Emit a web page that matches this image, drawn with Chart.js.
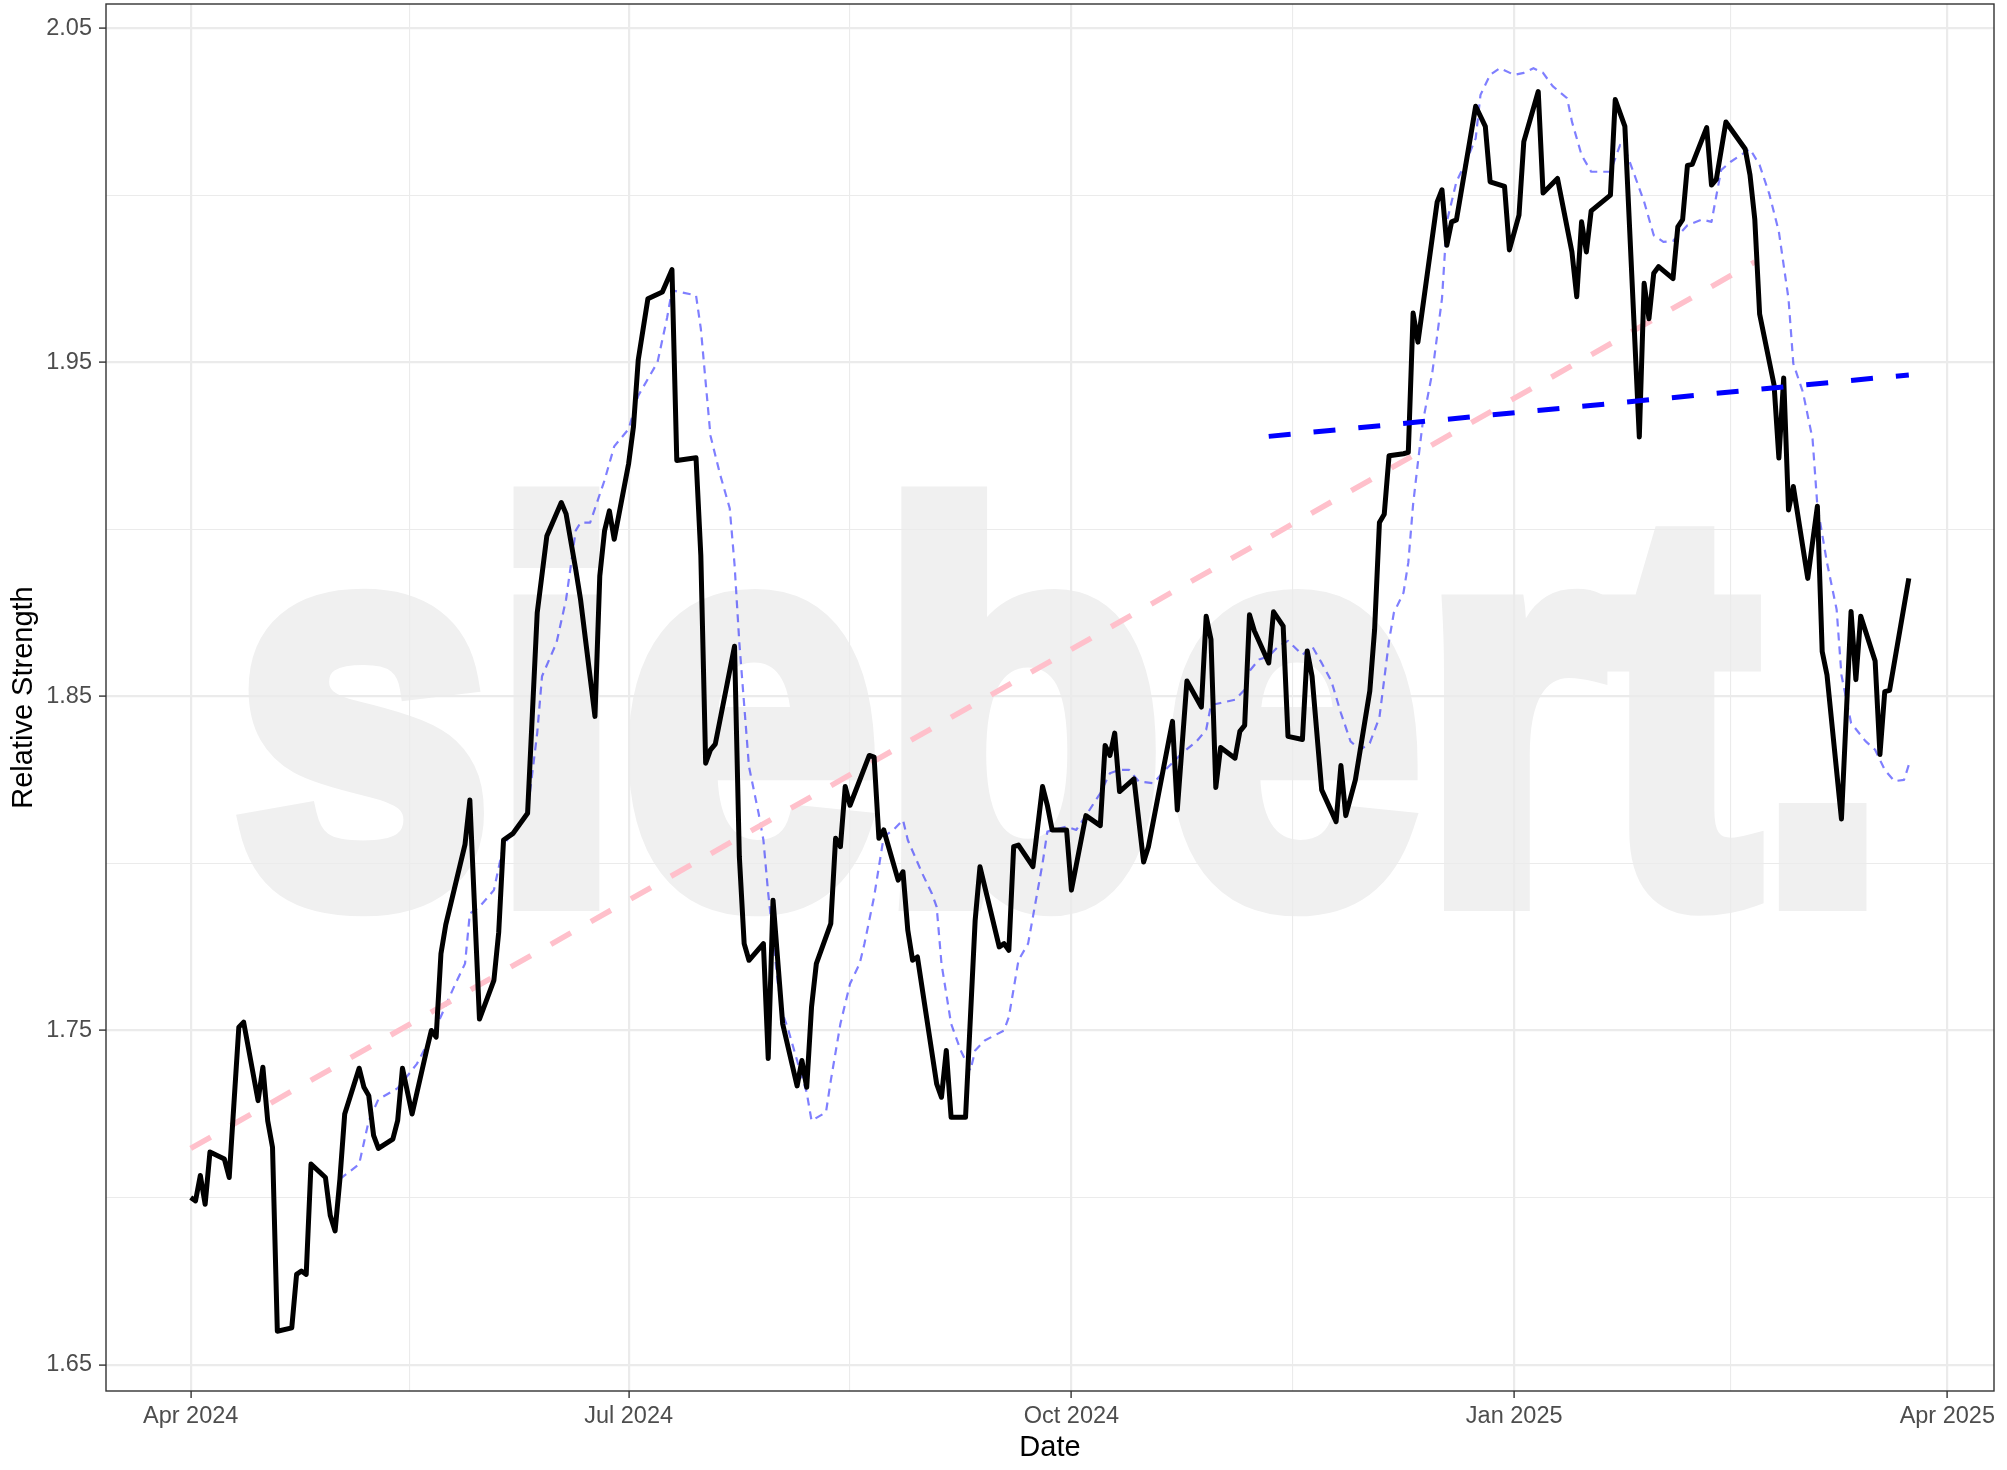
<!DOCTYPE html>
<html>
<head>
<meta charset="utf-8">
<script src="https://cdn.jsdelivr.net/npm/chart.js@4.4.1/dist/chart.umd.min.js"></script>
<style>
html,body{margin:0;padding:0;background:#ffffff;}
canvas{display:block;}
</style>
</head>
<body>
<canvas id="c" width="2007" height="1470"></canvas>
<script>
// ---------------- data ----------------
const rsDates = [
'2024-04-01','2024-04-02','2024-04-03','2024-04-04','2024-04-05','2024-04-08','2024-04-09','2024-04-11','2024-04-12',
'2024-04-15','2024-04-16','2024-04-17','2024-04-18','2024-04-19','2024-04-22','2024-04-23','2024-04-24','2024-04-25','2024-04-26',
'2024-04-29','2024-04-30','2024-05-01','2024-05-02','2024-05-03','2024-05-06','2024-05-07','2024-05-08','2024-05-09','2024-05-10',
'2024-05-13','2024-05-14','2024-05-15','2024-05-17','2024-05-20','2024-05-21','2024-05-22','2024-05-23','2024-05-24',
'2024-05-28','2024-05-29','2024-05-31','2024-06-03','2024-06-04','2024-06-05','2024-06-07','2024-06-10','2024-06-12','2024-06-14',
'2024-06-17','2024-06-18','2024-06-20','2024-06-21','2024-06-24','2024-06-25','2024-06-26','2024-06-27','2024-06-28',
'2024-07-01','2024-07-02','2024-07-03','2024-07-05','2024-07-08','2024-07-10','2024-07-11','2024-07-15','2024-07-16','2024-07-17',
'2024-07-18','2024-07-19','2024-07-23','2024-07-24','2024-07-25','2024-07-26','2024-07-29','2024-07-30','2024-07-31',
'2024-08-02','2024-08-05','2024-08-06','2024-08-07','2024-08-08','2024-08-09','2024-08-12','2024-08-13','2024-08-14','2024-08-15',
'2024-08-16','2024-08-20','2024-08-21','2024-08-22','2024-08-23','2024-08-26','2024-08-27','2024-08-28','2024-08-29','2024-08-30',
'2024-09-03','2024-09-04','2024-09-05','2024-09-06','2024-09-09','2024-09-11','2024-09-12','2024-09-16','2024-09-17','2024-09-18',
'2024-09-19','2024-09-20','2024-09-23','2024-09-25','2024-09-26','2024-09-27','2024-09-30',
'2024-10-01','2024-10-04','2024-10-07','2024-10-08','2024-10-09','2024-10-10','2024-10-11','2024-10-14','2024-10-16','2024-10-17',
'2024-10-22','2024-10-23','2024-10-25','2024-10-28','2024-10-29','2024-10-30','2024-10-31',
'2024-11-01','2024-11-04','2024-11-05','2024-11-06','2024-11-07','2024-11-08','2024-11-11','2024-11-12','2024-11-14','2024-11-15',
'2024-11-18','2024-11-19','2024-11-20','2024-11-22','2024-11-25','2024-11-26','2024-11-27','2024-11-29',
'2024-12-02','2024-12-03','2024-12-04','2024-12-05','2024-12-06','2024-12-09','2024-12-10','2024-12-11','2024-12-12','2024-12-16',
'2024-12-17','2024-12-18','2024-12-19','2024-12-20','2024-12-24','2024-12-26','2024-12-27','2024-12-30','2024-12-31',
'2025-01-02','2025-01-03','2025-01-06','2025-01-07','2025-01-10','2025-01-13','2025-01-14','2025-01-15','2025-01-16','2025-01-17',
'2025-01-21','2025-01-22','2025-01-24','2025-01-27','2025-01-28','2025-01-29','2025-01-30','2025-01-31',
'2025-02-03','2025-02-04','2025-02-05','2025-02-06','2025-02-07','2025-02-10','2025-02-11','2025-02-12','2025-02-14','2025-02-18',
'2025-02-19','2025-02-20','2025-02-21','2025-02-24','2025-02-25','2025-02-26','2025-02-27','2025-02-28',
'2025-03-03','2025-03-05','2025-03-06','2025-03-07','2025-03-10','2025-03-12','2025-03-13','2025-03-14','2025-03-17','2025-03-18',
'2025-03-19','2025-03-20','2025-03-24'
];
const rsValues = [
1.700,1.699,1.7066,1.698,1.7136,1.7115,1.706,1.751,1.7525,
1.729,1.739,1.723,1.715,1.660,1.661,1.677,1.678,1.677,1.710,
1.706,1.6946,1.690,1.7055,1.725,1.7387,1.733,1.7305,1.7186,1.7147,
1.7175,1.723,1.7387,1.725,1.744,1.750,1.748,1.773,1.7817,
1.8057,1.819,1.7534,1.765,1.7794,1.807,1.809,1.815,1.875,1.898,
1.908,1.9046,1.888,1.879,1.844,1.886,1.8996,1.9055,1.897,
1.9197,1.9307,1.9508,1.969,1.971,1.9777,1.9206,1.9214,1.892,1.830,
1.834,1.8357,1.865,1.802,1.776,1.771,1.776,1.7416,1.789,
1.752,1.7334,1.741,1.733,1.757,1.770,1.782,1.8075,1.805,1.823,
1.8174,1.8323,1.8318,1.8075,1.810,1.795,1.7975,1.780,1.771,1.772,
1.734,1.730,1.744,1.724,1.724,1.783,1.799,1.775,1.776,1.774,
1.805,1.8055,1.799,1.823,1.8174,1.810,1.810,
1.792,1.8143,1.8113,1.8353,1.8323,1.839,1.8215,1.8253,1.8004,1.805,
1.8425,1.816,1.8546,1.8468,1.874,1.867,1.8227,
1.8347,1.8315,1.8395,1.8413,1.8744,1.8696,1.860,1.8753,1.871,1.838,
1.8371,1.8636,1.856,1.822,1.8125,1.8293,1.8143,1.825,
1.8516,1.870,1.902,1.9045,1.922,1.9226,1.923,1.9647,1.956,1.998,
2.0016,1.985,1.992,1.9926,2.0266,2.0206,2.004,2.0026,1.9836,
1.994,2.016,2.031,2.0006,2.005,1.983,1.9696,1.992,1.983,1.9953,
2.000,2.0286,2.0206,1.9276,1.9736,1.963,1.9766,1.9786,
1.975,1.9905,1.9927,2.0089,2.0092,2.0202,2.003,2.0047,2.0219,2.0138,
2.006,1.9927,1.9644,1.9432,1.9213,1.9453,1.9058,1.9128,
1.8853,1.9069,1.8634,1.8564,1.8133,1.8754,1.855,1.874,1.8606,1.8326,
1.8514,1.8518,1.8853
];

const maDates = [
'2024-05-02','2024-05-06','2024-05-08','2024-05-10','2024-05-14','2024-05-18','2024-05-22','2024-05-26','2024-05-28','2024-05-29',
'2024-05-31','2024-06-03','2024-06-05','2024-06-10','2024-06-12','2024-06-13','2024-06-16','2024-06-18','2024-06-20','2024-06-21',
'2024-06-23','2024-06-26','2024-06-28','2024-07-01','2024-07-03','2024-07-07','2024-07-09','2024-07-10','2024-07-15','2024-07-16',
'2024-07-18','2024-07-20','2024-07-22','2024-07-23','2024-07-24','2024-07-26','2024-07-28','2024-07-29','2024-07-30','2024-07-31',
'2024-08-01','2024-08-02','2024-08-03','2024-08-05','2024-08-07','2024-08-08','2024-08-11','2024-08-12','2024-08-14','2024-08-16',
'2024-08-18','2024-08-19','2024-08-21','2024-08-23','2024-08-25','2024-08-27','2024-08-28','2024-08-31','2024-09-02','2024-09-03',
'2024-09-04','2024-09-06','2024-09-08','2024-09-10','2024-09-11','2024-09-13','2024-09-17','2024-09-18','2024-09-20','2024-09-22',
'2024-09-23','2024-09-25','2024-09-26','2024-09-30','2024-10-02','2024-10-04','2024-10-07','2024-10-09','2024-10-11','2024-10-13',
'2024-10-15','2024-10-18','2024-10-21','2024-10-24','2024-10-27','2024-10-29','2024-10-30','2024-11-01','2024-11-04','2024-11-06',
'2024-11-07','2024-11-09','2024-11-11','2024-11-13','2024-11-15','2024-11-18','2024-11-20','2024-11-22','2024-11-24','2024-11-26',
'2024-11-28','2024-11-30','2024-12-02','2024-12-04','2024-12-06','2024-12-07','2024-12-09','2024-12-10','2024-12-11','2024-12-12',
'2024-12-13','2024-12-15','2024-12-17','2024-12-18','2024-12-20','2024-12-22','2024-12-24','2024-12-25','2024-12-27','2024-12-29',
'2025-01-01','2025-01-03','2025-01-05','2025-01-07','2025-01-09','2025-01-12','2025-01-13','2025-01-15','2025-01-17','2025-01-21',
'2025-01-23','2025-01-24','2025-01-25','2025-01-28','2025-01-30','2025-02-01','2025-02-03','2025-02-06','2025-02-09','2025-02-11',
'2025-02-13','2025-02-15','2025-02-19','2025-02-21','2025-02-23','2025-02-25','2025-02-27','2025-02-28','2025-03-02','2025-03-04',
'2025-03-05','2025-03-07','2025-03-09','2025-03-10','2025-03-12','2025-03-15','2025-03-17','2025-03-19','2025-03-21','2025-03-23',
'2025-03-24'
];
const maValues = [
1.7055,1.710,1.723,1.7294,1.7327,1.740,1.751,1.764,1.770,1.785,
1.787,1.792,1.8055,1.8155,1.839,1.856,1.866,1.879,1.8996,1.902,
1.902,1.9147,1.9248,1.930,1.940,1.950,1.9634,1.9715,1.970,1.960,
1.928,1.9164,1.9063,1.8895,1.866,1.829,1.815,1.807,1.791,1.778,
1.764,1.755,1.751,1.741,1.7314,1.723,1.7255,1.735,1.752,1.764,
1.770,1.776,1.790,1.808,1.810,1.813,1.807,1.797,1.791,1.787,
1.770,1.752,1.744,1.738,1.744,1.747,1.750,1.754,1.771,1.776,
1.784,1.800,1.8095,1.811,1.810,1.8143,1.821,1.827,1.828,1.828,
1.8245,1.824,1.8287,1.833,1.8365,1.840,1.8474,1.848,1.849,1.852,
1.8576,1.861,1.862,1.865,1.8666,1.8624,1.865,1.860,1.8546,1.845,
1.8365,1.834,1.836,1.8437,1.8666,1.875,1.881,1.890,1.9075,1.920,
1.932,1.947,1.969,1.992,2.004,2.010,2.017,2.030,2.036,2.038,
2.036,2.0366,2.038,2.0366,2.0326,2.029,2.022,2.012,2.007,2.007,
2.015,2.014,2.010,1.998,1.988,1.986,1.9863,1.991,1.9927,1.992,
2.0075,2.010,2.0138,2.009,2.0004,1.989,1.969,1.9496,1.941,1.927,
1.907,1.890,1.876,1.8564,1.842,1.8366,1.834,1.828,1.8246,1.825,
1.8295
];

const trendLongDates = ['2024-04-01','2025-02-20'];
const trendLongValues = [1.7147, 1.980];
const trendRecentDates = ['2024-11-11','2025-03-24'];
const trendRecentValues = [1.9278, 1.9462];

const xTickDates = ['2024-04-01','2024-07-01','2024-10-01','2025-01-01','2025-04-01'];
const xTickLabels = ['Apr 2024','Jul 2024','Oct 2024','Jan 2025','Apr 2025'];
const yMajorTicks = [1.65, 1.75, 1.85, 1.95, 2.05];
const yMinorTicks = [1.70, 1.80, 1.90, 2.00];

const xTitle = 'Date';
const yTitle = 'Relative Strength';
const watermarkText = 'siebert.';

// ---------------- helpers ----------------
const ORIGIN = Date.UTC(2024, 3, 1);
function dayOf(s) {
  const p = s.split('-').map(Number);
  return Math.round((Date.UTC(p[0], p[1] - 1, p[2]) - ORIGIN) / 86400000);
}
function toPoints(dates, values) {
  return dates.map((d, i) => ({ x: dayOf(d), y: values[i] }));
}
const xMajor = xTickDates.map(dayOf);
const xMinor = [];
for (let i = 0; i < xMajor.length - 1; i++) xMinor.push((xMajor[i] + xMajor[i + 1]) / 2);
const xLabelMap = new Map(xMajor.map((v, i) => [v, xTickLabels[i]]));
const yMajorKeys = new Set(yMajorTicks.map(v => v.toFixed(2)));

const FONT = '"Liberation Sans", Arial, Helvetica, sans-serif';
Chart.defaults.font.family = FONT;

// heavy light-grey watermark behind the plot
const watermarkPlugin = {
  id: 'watermark',
  beforeDraw(chart) {
    const ctx = chart.ctx;
    const extra = 26;            // outline that thickens the glyphs
    ctx.save();
    ctx.fillStyle = '#F0F0F0';
    ctx.strokeStyle = '#F0F0F0';
    ctx.lineJoin = 'miter';
    ctx.miterLimit = 3;
    ctx.lineWidth = extra;
    ctx.font = 'bold 550px ' + FONT;
    ctx.textBaseline = 'alphabetic';
    ctx.textAlign = 'left';
    const m = ctx.measureText(watermarkText);
    const inkLeft = -m.actualBoundingBoxLeft - extra / 2;
    const inkW = m.actualBoundingBoxRight + m.actualBoundingBoxLeft + extra;
    const sx = 1634 / inkW;
    ctx.translate(237 - inkLeft * sx, 898);
    ctx.scale(sx, 1);
    ctx.fillText(watermarkText, 0, 0);
    ctx.strokeText(watermarkText, 0, 0);
    ctx.restore();
  }
};
const borderPlugin = {
  id: 'panelBorder',
  afterDraw(chart) {
    const a = chart.chartArea;
    const ctx = chart.ctx;
    ctx.save();
    ctx.strokeStyle = '#333333';
    ctx.lineWidth = 1.4;
    ctx.strokeRect(a.left, a.top, a.right - a.left, a.bottom - a.top);
    ctx.restore();
  }
};

new Chart(document.getElementById('c'), {
  type: 'line',
  data: {
    datasets: [
      { label: 'recent trend', data: toPoints(trendRecentDates, trendRecentValues),
        borderColor: '#0000FF', borderWidth: 5, borderDash: [22, 23], borderCapStyle: 'butt',
        pointRadius: 0, fill: false, order: 0 },
      { label: 'relative strength', data: toPoints(rsDates, rsValues),
        borderColor: '#000000', borderWidth: 5, borderJoinStyle: 'round', borderCapStyle: 'butt',
        pointRadius: 0, fill: false, tension: 0, order: 1 },
      { label: 'long trend', data: toPoints(trendLongDates, trendLongValues),
        borderColor: '#FFC0CB', borderWidth: 5.5, borderDash: [23, 23], borderCapStyle: 'butt',
        pointRadius: 0, fill: false, order: 2 },
      { label: 'moving average', data: toPoints(maDates, maValues),
        borderColor: 'rgba(0,0,255,0.5)', borderWidth: 2.2, borderDash: [8, 6], borderJoinStyle: 'round',
        pointRadius: 0, fill: false, tension: 0, order: 3 }
    ]
  },
  options: {
    responsive: false,
    animation: false,
    devicePixelRatio: 1,
    layout: { padding: { left: 0, right: 13, top: 4, bottom: 0 } },
    plugins: { legend: { display: false }, tooltip: { enabled: false } },
    scales: {
      x: {
        type: 'linear',
        min: -17.6,
        max: 374.7,
        afterBuildTicks: (s) => {
          s.ticks = [...xMajor, ...xMinor].sort((a, b) => a - b).map(v => ({ value: v }));
        },
        afterFit: (s) => { s.height = 79; s.paddingLeft = 0; s.paddingRight = 0; },
        ticks: {
          autoSkip: false, maxRotation: 0, minRotation: 0, padding: 4,
          color: '#4D4D4D', font: { family: FONT, size: 23.5 },
          callback: (v) => xLabelMap.has(v) ? xLabelMap.get(v) : ''
        },
        grid: {
          color: '#EBEBEB',
          lineWidth: (c) => (c.tick && xLabelMap.has(c.tick.value)) ? 2.2 : 1.1,
          tickLength: 7,
          tickWidth: 1.4,
          tickColor: (c) => (c.tick && xLabelMap.has(c.tick.value)) ? '#333333' : 'rgba(0,0,0,0)'
        },
        border: { display: false },
        title: { display: true, text: xTitle, color: '#000000',
                 font: { family: FONT, size: 29 }, padding: { top: 0, bottom: 5 } }
      },
      y: {
        type: 'linear',
        min: 1.6421,
        max: 2.0572,
        afterBuildTicks: (s) => {
          s.ticks = [...yMajorTicks, ...yMinorTicks].sort((a, b) => a - b).map(v => ({ value: v }));
        },
        afterFit: (s) => { s.width = 106; s.paddingTop = 0; s.paddingBottom = 0; },
        ticks: {
          autoSkip: false, padding: 7,
          color: '#4D4D4D', font: { family: FONT, size: 23.5 },
          callback: (v) => yMajorKeys.has(Number(v).toFixed(2)) ? Number(v).toFixed(2) : ''
        },
        grid: {
          color: '#EBEBEB',
          lineWidth: (c) => (c.tick && yMajorKeys.has(Number(c.tick.value).toFixed(2))) ? 2.2 : 1.1,
          tickLength: 7,
          tickWidth: 1.4,
          tickColor: (c) => (c.tick && yMajorKeys.has(Number(c.tick.value).toFixed(2))) ? '#333333' : 'rgba(0,0,0,0)'
        },
        border: { display: false },
        title: { display: true, text: yTitle, color: '#000000',
                 font: { family: FONT, size: 29 }, padding: { top: 7, bottom: 0 } }
      }
    }
  },
  plugins: [watermarkPlugin, borderPlugin]
});
</script>
</body>
</html>
